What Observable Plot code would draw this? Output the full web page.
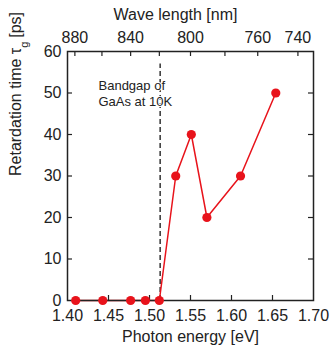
<!DOCTYPE html>
<html><head><meta charset="utf-8">
<script src="https://cdn.jsdelivr.net/npm/d3@7"></script>
<script src="https://cdn.jsdelivr.net/npm/@observablehq/plot@0.6"></script>
<style>body{margin:0;background:#fff}</style>
</head><body><div id="chart"></div>
<script>
// Data
const energy = [1.41, 1.443, 1.477, 1.495, 1.512, 1.532, 1.551, 1.570, 1.611, 1.654];
const tau = [0, 0, 0, 0, 0, 30, 40, 20, 30, 50];
const xTicks = [1.40, 1.45, 1.50, 1.55, 1.60, 1.65, 1.70];
const xInnerTicks = [1.45, 1.50, 1.55, 1.60, 1.65];
const yTicks = [0, 10, 20, 30, 40, 50, 60];
const yInnerTicks = [10, 20, 30, 40, 50];
const waveTickLabels = [880, 860, 840, 820, 800, 780, 760, 740];
const waveTickEnergy = [1.409, 1.442, 1.477, 1.512, 1.550, 1.592, 1.632, 1.681];
const waveLabeled = [880, 840, 800, 760, 740];
const bandgap = [1.513];

const data = energy.map((e, i) => ({energy: e, tau: tau[i]}));
const waveMap = new Map(waveTickEnergy.map((e, i) => [e, waveLabeled.includes(waveTickLabels[i]) ? String(waveTickLabels[i]) : ""]));

const FONT = "'Liberation Sans', Arial, Helvetica, sans-serif";
const INK = "#222";
const RED = "#e8131b";

const W = 330, H = 349, ML = 67, MR = 17, MT = 51, MB = 49;
const frameH = H - MT - MB, frameW = W - ML - MR, TK = 5;

const svg = Plot.plot({
  width: W, height: H,
  marginLeft: ML, marginRight: MR, marginTop: MT, marginBottom: MB,
  style: {fontFamily: FONT, fontSize: "16px", color: INK, background: "white", overflow: "visible"},
  x: {domain: [1.40, 1.70]},
  y: {domain: [0, 60]},
  marks: [
    Plot.ruleX(bandgap, {x: d => d, y1: 0, y2: 57, stroke: "#333", strokeWidth: 1.5, strokeDasharray: "5,3"}),
    Plot.line(data, {x: "energy", y: "tau", stroke: RED, strokeWidth: 1.5}),
    // inward ticks
    Plot.ruleX(xInnerTicks, {x: d => d, insetTop: frameH - TK, stroke: INK, strokeWidth: 1.2}),
    Plot.ruleX(waveTickEnergy, {x: d => d, insetBottom: frameH - TK, stroke: INK, strokeWidth: 1.2}),
    Plot.ruleY(yInnerTicks, {y: d => d, insetRight: frameW - TK, stroke: INK, strokeWidth: 1.2}),
    Plot.ruleY(yInnerTicks, {y: d => d, insetLeft: frameW - TK, stroke: INK, strokeWidth: 1.2}),
    Plot.frame({stroke: INK, strokeWidth: 1.5}),
    Plot.dot(data, {x: "energy", y: "tau", r: 4.6, fill: RED, stroke: "none"}),
    Plot.axisX(xTicks, {anchor: "bottom", tickSize: 0, tickPadding: 9, tickFormat: d3.format(".2f"), fontSize: 16, fill: INK, label: null}),
    Plot.axisX(waveTickEnergy, {anchor: "top", tickSize: 0, tickPadding: 9, tickFormat: d => waveMap.get(d) ?? "", fontSize: 16, fill: INK, label: null}),
    Plot.axisY(yTicks, {anchor: "left", tickSize: 0, tickPadding: 6, fontSize: 16, fill: INK, label: null}),
    Plot.text(["Photon energy [eV]"], {text: d => d, frameAnchor: "bottom", lineAnchor: "bottom", dy: 41, fontSize: 16, fill: INK}),
    Plot.text(["Wave length [nm]"], {text: d => d, frameAnchor: "top", lineAnchor: "bottom", dx: -15, dy: -32, fontSize: 16, fill: INK}),
    Plot.text(["Retardation time τg [ps]"], {text: d => d, frameAnchor: "left", lineAnchor: "bottom", rotate: -90, dx: -47, fontSize: 16, fill: INK, className: "ylab"}),
    Plot.text(["Bandgap of\nGaAs at 10K"], {text: d => d, frameAnchor: "top-left", textAnchor: "start", lineAnchor: "top", dx: 31, dy: 26, fontSize: 13, lineHeight: 1.3, fill: INK, stroke: "white", strokeWidth: 2, paintOrder: "stroke"})
  ]
});

// subscript g in the y label
const t = d3.select(svg).select(".ylab text");
if (!t.empty()) {
  t.text(null);
  t.append("tspan").text("Retardation time τ");
  t.append("tspan").attr("dy", "7").attr("font-size", "11px").text("g");
  t.append("tspan").attr("dy", "-7").attr("dx", "4").text("[ps]");
}
document.getElementById("chart").appendChild(svg);
</script>
</body></html>
